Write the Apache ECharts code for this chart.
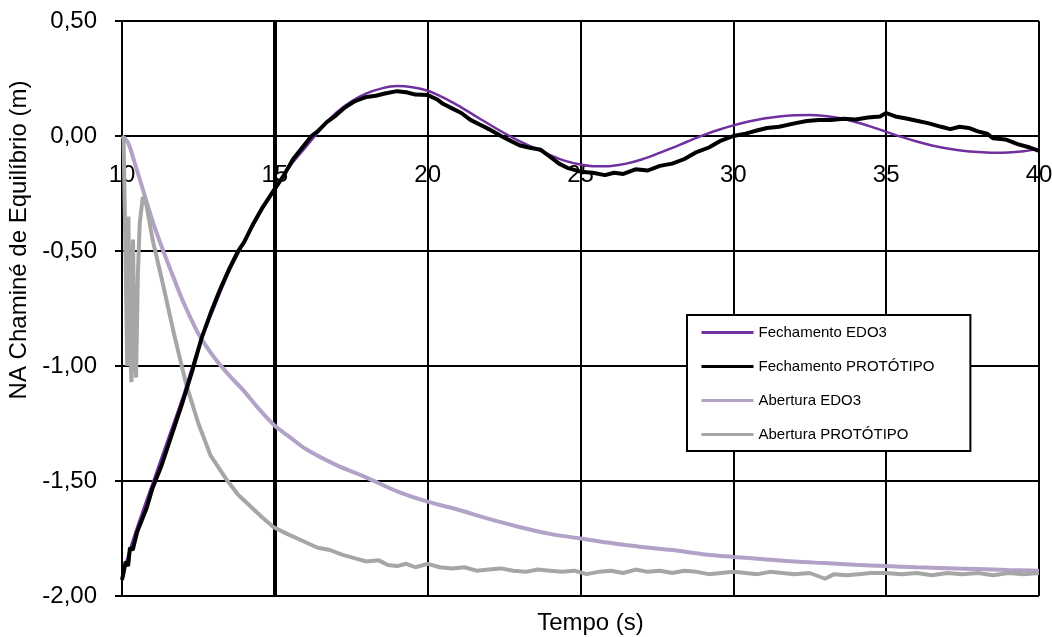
<!DOCTYPE html>
<html>
<head>
<meta charset="utf-8">
<script src="https://cdn.jsdelivr.net/npm/echarts@6/dist/echarts.min.js"></script>
<style>
html,body{margin:0;padding:0;background:#fff;}
#chart{width:1052px;height:637px;}
</style>
</head>
<body>
<div id="chart"></div>
<script>
// ---- data ----
const seriesNames = ['Fechamento EDO3', 'Fechamento PROTÓTIPO', 'Abertura EDO3', 'Abertura PROTÓTIPO'];
const xTicks = [10, 15, 20, 25, 30, 35, 40];
const yTicks = [-2, -1.5, -1, -0.5, 0, 0.5];

const fechamentoEDO3 = [
  [10.0,-1.92],[10.3,-1.78],[10.6,-1.66],[11.0,-1.51],[11.5,-1.32],[12.0,-1.13],[12.5,-0.92],
  [13.0,-0.75],[13.5,-0.59],[14.0,-0.46],[14.5,-0.34],[15.0,-0.225],[15.5,-0.13],[16.0,-0.05],
  [16.5,0.03],[17.0,0.10],[17.5,0.15],[18.0,0.185],[18.5,0.207],[19.0,0.217],[19.5,0.212],
  [20.0,0.197],[20.5,0.168],[21.0,0.132],[21.5,0.092],[22.0,0.052],[22.5,0.013],[23.0,-0.022],
  [23.5,-0.053],[24.0,-0.083],[24.5,-0.108],[25.0,-0.124],[25.5,-0.132],[26.0,-0.130],
  [26.5,-0.120],[27.0,-0.102],[27.5,-0.078],[28.0,-0.052],[28.5,-0.024],[29.0,0.003],
  [29.5,0.026],[30.0,0.046],[30.5,0.063],[31.0,0.076],[31.5,0.085],[32.0,0.090],[32.5,0.091],
  [33.0,0.087],[33.5,0.077],[34.0,0.061],[34.5,0.041],[35.0,0.018],[35.5,-0.004],[36.0,-0.024],
  [36.5,-0.041],[37.0,-0.054],[37.5,-0.064],[38.0,-0.070],[38.5,-0.073],[39.0,-0.072],
  [39.5,-0.066],[40.0,-0.056]
];

const fechamentoPrototipo = [
  [10.0,-1.93],[10.05,-1.90],[10.12,-1.85],[10.2,-1.87],[10.26,-1.79],[10.35,-1.80],[10.5,-1.72],
  [10.8,-1.62],[11.0,-1.53],[11.3,-1.43],[11.6,-1.31],[12.0,-1.15],[12.3,-1.02],[12.6,-0.88],
  [12.9,-0.77],[13.2,-0.67],[13.5,-0.58],[13.8,-0.50],[14.0,-0.46],[14.3,-0.38],[14.6,-0.31],
  [15.0,-0.23],[15.3,-0.17],[15.6,-0.10],[15.9,-0.05],[16.2,0.0],[16.4,0.02],[16.7,0.06],
  [17.0,0.09],[17.3,0.125],[17.6,0.15],[18.0,0.17],[18.3,0.175],[18.6,0.185],[19.0,0.195],
  [19.3,0.19],[19.6,0.18],[20.0,0.178],[20.3,0.16],[20.5,0.14],[20.8,0.12],[21.1,0.10],
  [21.4,0.07],[21.7,0.05],[22.0,0.03],[22.4,0.0],[22.7,-0.02],[23.0,-0.04],[23.3,-0.05],
  [23.7,-0.06],[24.0,-0.09],[24.3,-0.12],[24.6,-0.14],[25.0,-0.155],[25.4,-0.16],[25.8,-0.17],
  [26.1,-0.16],[26.4,-0.165],[26.8,-0.145],[27.2,-0.15],[27.6,-0.13],[28.0,-0.12],[28.4,-0.10],
  [28.8,-0.07],[29.2,-0.05],[29.6,-0.02],[30.0,0.0],[30.4,0.01],[30.8,0.025],[31.1,0.035],
  [31.5,0.04],[32.0,0.055],[32.4,0.065],[32.8,0.07],[33.2,0.07],[33.6,0.075],[34.0,0.072],
  [34.4,0.08],[34.8,0.085],[35.0,0.10],[35.3,0.085],[35.7,0.075],[36.0,0.066],[36.4,0.055],
  [36.8,0.04],[37.1,0.03],[37.4,0.04],[37.7,0.035],[38.0,0.02],[38.3,0.01],[38.5,-0.01],
  [38.9,-0.015],[39.3,-0.035],[39.7,-0.05],[40.0,-0.065]
];

const aberturaEDO3 = [
  [10.0,0.0],[10.2,-0.03],[10.4,-0.11],[10.7,-0.24],[11.0,-0.37],[11.35,-0.50],[11.7,-0.62],
  [12.0,-0.72],[12.5,-0.86],[13.0,-0.96],[13.5,-1.04],[14.0,-1.11],[14.5,-1.19],[15.0,-1.26],
  [15.5,-1.31],[16.0,-1.36],[17.0,-1.43],[18.0,-1.485],[19.0,-1.545],[20.0,-1.59],[21.0,-1.625],
  [22.0,-1.665],[23.0,-1.70],[24.0,-1.73],[25.0,-1.75],[26.0,-1.77],[27.0,-1.787],[28.0,-1.80],
  [29.0,-1.818],[30.0,-1.83],[31.0,-1.84],[32.0,-1.85],[33.0,-1.857],[34.0,-1.864],[35.0,-1.87],
  [36.0,-1.875],[37.0,-1.879],[38.0,-1.883],[39.0,-1.887],[40.0,-1.89]
];

const aberturaPrototipo = [
  [10.05,0.0],[10.12,-0.55],[10.17,-1.0],[10.21,-0.35],[10.26,-0.9],[10.31,-1.07],[10.36,-0.45],
  [10.41,-0.95],[10.46,-1.05],[10.52,-0.6],[10.58,-0.38],[10.68,-0.265],[10.8,-0.30],
  [11.0,-0.45],[11.35,-0.65],[11.7,-0.86],[12.1,-1.08],[12.5,-1.25],
  [12.9,-1.39],[13.4,-1.49],[13.8,-1.56],[14.2,-1.61],[14.6,-1.66],[14.95,-1.70],[15.4,-1.73],
  [15.9,-1.76],[16.4,-1.79],[16.8,-1.80],[17.2,-1.82],[17.6,-1.835],[18.0,-1.85],[18.4,-1.845],
  [18.7,-1.865],[19.0,-1.87],[19.3,-1.86],[19.6,-1.875],[20.0,-1.86],[20.4,-1.875],[20.8,-1.88],
  [21.2,-1.875],[21.6,-1.89],[22.0,-1.885],[22.4,-1.88],[22.8,-1.89],[23.2,-1.895],[23.6,-1.885],
  [24.0,-1.89],[24.4,-1.895],[24.8,-1.89],[25.2,-1.905],[25.6,-1.895],[26.0,-1.89],[26.4,-1.90],
  [26.8,-1.885],[27.2,-1.895],[27.6,-1.89],[28.0,-1.90],[28.4,-1.89],[28.8,-1.895],[29.2,-1.905],
  [29.6,-1.90],[30.0,-1.895],[30.4,-1.90],[30.8,-1.905],[31.2,-1.895],[31.6,-1.90],[32.0,-1.905],
  [32.5,-1.90],[33.0,-1.925],[33.3,-1.905],[33.7,-1.91],[34.1,-1.905],[34.5,-1.90],[35.0,-1.90],
  [35.5,-1.905],[36.0,-1.90],[36.5,-1.91],[37.0,-1.90],[37.5,-1.905],[38.0,-1.90],[38.5,-1.91],
  [39.0,-1.90],[39.5,-1.905],[40.0,-1.90]
];

const refLineX = 15;

// ---- chart ----
const FONT = 'Liberation Sans, Arial, sans-serif';
const chart = echarts.init(document.getElementById('chart'), null, {renderer: 'canvas'});

const GRID_TOP = 21, GRID_BOTTOM = 41, H = 637;
const plotH = H - GRID_TOP - GRID_BOTTOM;
const yMin = yTicks[0], yMax = yTicks[yTicks.length - 1];
// shift the x axis up so it sits on y = 0 (like onZero)
const xAxisOffset = -plotH * (0 - yMin) / (yMax - yMin);

const option = {
  backgroundColor: '#ffffff',
  animation: false,
  grid: {left: 122, right: 13, top: GRID_TOP, bottom: GRID_BOTTOM, containLabel: false, outerBoundsMode: 'none'},
  legend: {
    data: seriesNames,
    orient: 'vertical',
    left: 687,
    top: 315,
    padding: [10, 36, 9, 13],
    itemWidth: 52,
    itemHeight: 16,
    itemGap: 19,
    backgroundColor: '#ffffff',
    borderColor: '#000000',
    borderWidth: 2,
    itemStyle: {opacity: 0},
    lineStyle: {width: 3},
    textStyle: {fontFamily: FONT, fontSize: 15, color: '#000'}
  },
  xAxis: {
    type: 'value',
    position: 'bottom',
    offset: xAxisOffset,
    min: xTicks[0],
    max: xTicks[xTicks.length - 1],
    interval: 5,
    name: 'Tempo (s)',
    nameLocation: 'middle',
    nameGap: 475,
    nameTextStyle: {fontFamily: FONT, fontSize: 24, color: '#000', padding: [0, 0, 0, 20]},
    axisLine: {show: true, onZero: false, lineStyle: {color: '#000', width: 2}},
    axisTick: {show: false},
    axisLabel: {fontFamily: FONT, fontSize: 24, color: '#000', margin: 27, showMinLabel: true, showMaxLabel: true},
    splitLine: {show: true, lineStyle: {color: '#000', width: 2}}
  },
  yAxis: {
    type: 'value',
    min: yMin,
    max: yMax,
    interval: 0.5,
    name: 'NA Chaminé de Equilíbrio (m)',
    nameLocation: 'middle',
    nameGap: 86,
    nameTextStyle: {fontFamily: FONT, fontSize: 24, color: '#000', padding: [0, 0, 0, 137]},
    axisLine: {show: true, onZero: false, lineStyle: {color: '#000', width: 2}},
    axisTick: {show: true, inside: false, length: 7, lineStyle: {color: '#000', width: 2}},
    axisLabel: {
      fontFamily: FONT, fontSize: 24, color: '#000', margin: 25,
      formatter: v => v.toFixed(2).replace('.', ',')
    },
    splitLine: {show: true, lineStyle: {color: '#000', width: 2}}
  },
  series: [
    {
      name: seriesNames[2], type: 'line', data: aberturaEDO3, z: 2,
      symbol: 'none', smooth: 0.3,
      lineStyle: {color: '#b3a2c7', width: 4}, itemStyle: {color: '#b3a2c7'},
      markLine: {
        z: 1, silent: true, symbol: ['none', 'none'], label: {show: false},
        lineStyle: {color: '#000', width: 4, type: 'solid'},
        data: [{xAxis: refLineX}]
      }
    },
    {
      name: seriesNames[3], type: 'line', data: aberturaPrototipo, z: 3,
      symbol: 'none',
      lineStyle: {color: '#a6a6a6', width: 4}, itemStyle: {color: '#a6a6a6'}
    },
    {
      name: seriesNames[0], type: 'line', data: fechamentoEDO3, z: 4,
      symbol: 'none', smooth: 0.3,
      lineStyle: {color: '#7030a0', width: 2.5}, itemStyle: {color: '#7030a0'}
    },
    {
      name: seriesNames[1], type: 'line', data: fechamentoPrototipo, z: 5,
      symbol: 'none',
      lineStyle: {color: '#000000', width: 4}, itemStyle: {color: '#000000'}
    }
  ]
};
chart.setOption(option);
</script>
</body>
</html>
